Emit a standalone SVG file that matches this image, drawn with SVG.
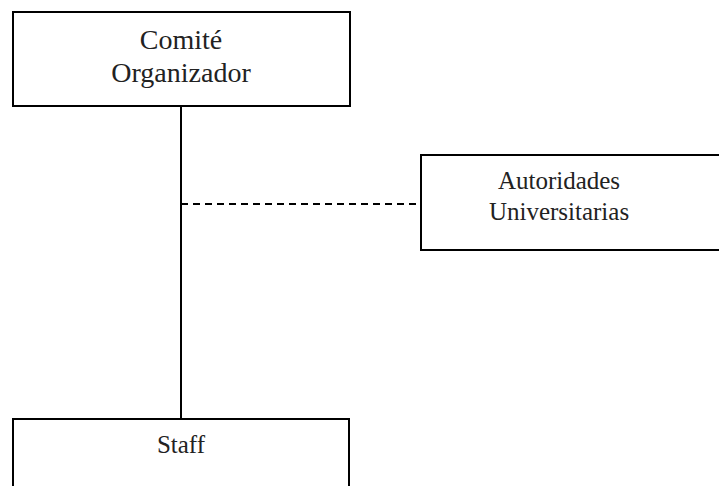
<svg xmlns="http://www.w3.org/2000/svg" width="719" height="486" viewBox="0 0 719 486">
<style>
.box{fill:#fff;stroke:#000;stroke-width:2}
.t{font-family:"Liberation Serif","DejaVu Serif",serif;fill:#222;text-anchor:middle}
.c{stroke:#000;stroke-width:2;fill:none}
.d{stroke-dasharray:7,5}
</style>
<rect width="719" height="486" fill="#fff"/>
<g id="connectors">
<line class="c" x1="181" y1="106" x2="181" y2="419"/>
<line class="c d" x1="181" y1="204" x2="421" y2="204"/>
</g>
<g id="comite">
<rect class="box" x="13" y="12" width="337" height="94"/>
<text class="t" x="181" y="49" font-size="28">Comité</text>
<text class="t" x="181" y="82" font-size="28">Organizador</text>
</g>
<g id="autoridades">
<rect class="box" x="421" y="155" width="300" height="95"/>
<text class="t" x="559" y="189" font-size="25">Autoridades</text>
<text class="t" x="559" y="220" font-size="25">Universitarias</text>
</g>
<g id="staff">
<rect class="box" x="13" y="419" width="336" height="80"/>
<text class="t" x="181" y="453" font-size="25">Staff</text>
</g>
</svg>
